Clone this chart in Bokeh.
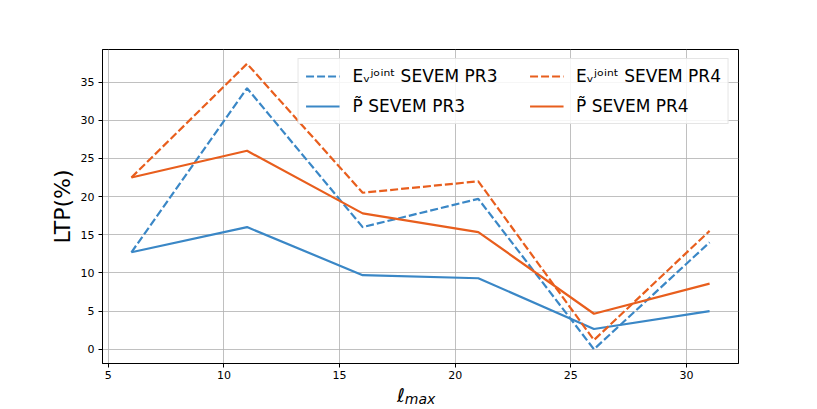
from bokeh.plotting import figure
from bokeh.layouts import column
from bokeh.models import Range1d, FixedTicker, Legend, LegendItem, Div
from bokeh.embed import file_html
from bokeh.resources import INLINE

# ---- data ----
lmax = [6, 11, 16, 21, 26, 31]
ev_pr3 = [12.7, 34.2, 16.0, 19.7, 0.0, 14.0]
p_pr3 = [12.7, 16.0, 9.7, 9.3, 2.65, 5.0]
ev_pr4 = [22.5, 37.4, 20.5, 22.0, 1.2, 15.5]
p_pr4 = [22.5, 26.0, 17.8, 15.35, 4.65, 8.6]
x_ticks = [5, 10, 15, 20, 25, 30]
y_ticks = [0, 5, 10, 15, 20, 25, 30, 35]
labels = ["E\u1d65\u02b2\u1d52\u2071\u207f\u1d57 SEVEM PR3", "P\u0303 SEVEM PR3",
          "E\u1d65\u02b2\u1d52\u2071\u207f\u1d57 SEVEM PR4", "P\u0303 SEVEM PR4"]
xlabel_main = "\u2113"
xlabel_sub = "max"
ylabel = "LTP(%)"

BLUE = "#3a87c6"
ORANGE = "#e85e1d"
FONT = "DejaVu Sans"

x_start, x_end = 4.75, 32.25
y_start, y_end = -1.87, 39.27

p = figure(frame_width=636, frame_height=314, min_border_left=102, min_border_right=71,
           min_border_top=49, min_border_bottom=20,
           x_range=Range1d(x_start, x_end), y_range=Range1d(y_start, y_end),
           output_backend="svg", toolbar_location=None,
           background_fill_color="white", border_fill_color="white")

p.outline_line_color = "black"
p.outline_line_width = 1

for ax in (p.xaxis, p.yaxis):
    ax.axis_line_color = "black"
    ax.major_tick_line_color = "black"
    ax.major_tick_out = 4
    ax.major_tick_in = 0
    ax.minor_tick_line_color = None
    ax.major_label_text_font = FONT
    ax.major_label_text_font_size = "11px"
    ax.major_label_text_color = "black"
    ax.major_label_standoff = 4
p.xaxis.major_label_standoff = 3

p.xaxis.ticker = FixedTicker(ticks=x_ticks)
p.yaxis.ticker = FixedTicker(ticks=y_ticks)

p.yaxis.axis_label = ylabel
p.yaxis.axis_label_text_font = FONT
p.yaxis.axis_label_text_font_size = "22px"
p.yaxis.axis_label_text_font_style = "normal"
p.yaxis.axis_label_text_color = "black"
p.yaxis.axis_label_standoff = 3

p.xgrid.ticker = FixedTicker(ticks=x_ticks)
p.ygrid.ticker = FixedTicker(ticks=y_ticks)
for g in (p.xgrid, p.ygrid):
    g.grid_line_color = "#b0b0b0"
    g.grid_line_width = 1
    g.grid_line_alpha = 0.8

r1 = p.line(lmax, ev_pr3, line_color=BLUE, line_width=2.2, line_dash="8 3")
r2 = p.line(lmax, p_pr3, line_color=BLUE, line_width=2.2)
r3 = p.line(lmax, ev_pr4, line_color=ORANGE, line_width=2.2, line_dash="8 3")
r4 = p.line(lmax, p_pr4, line_color=ORANGE, line_width=2.2)

pad = "\u00a0" * 4
legend = Legend(items=[LegendItem(label=labels[0] + pad, renderers=[r1]),
                       LegendItem(label=labels[1], renderers=[r2]),
                       LegendItem(label=labels[2], renderers=[r3]),
                       LegendItem(label=labels[3], renderers=[r4])],
                location="top_right", ncols=2)
legend.label_text_font = FONT
legend.label_text_font_size = "17px"
legend.label_text_color = "black"
legend.glyph_width = 34
legend.glyph_height = 20
legend.label_height = 20
legend.label_standoff = 13
legend.spacing = 10
legend.padding = 7
legend.margin = 9
legend.border_line_color = "#cccccc"
legend.border_line_width = 1
legend.background_fill_alpha = 0.85
p.add_layout(legend)

# x-axis label (l with italic subscript "max") as real HTML text below the plot
html = ('<div style="padding-left:397px;padding-top:2px;font-family:\'DejaVu Sans\';'
        'font-style:italic;font-size:19px;line-height:20px;color:black;white-space:nowrap">'
        + xlabel_main +
        '<span style="font-size:14px;position:relative;top:2px">' + xlabel_sub + '</span></div>')
xlab = Div(text=html, width=809, height=26, margin=0)

layout = column(p, xlab, spacing=0)
open("out.html", "w").write(file_html(layout, INLINE))
